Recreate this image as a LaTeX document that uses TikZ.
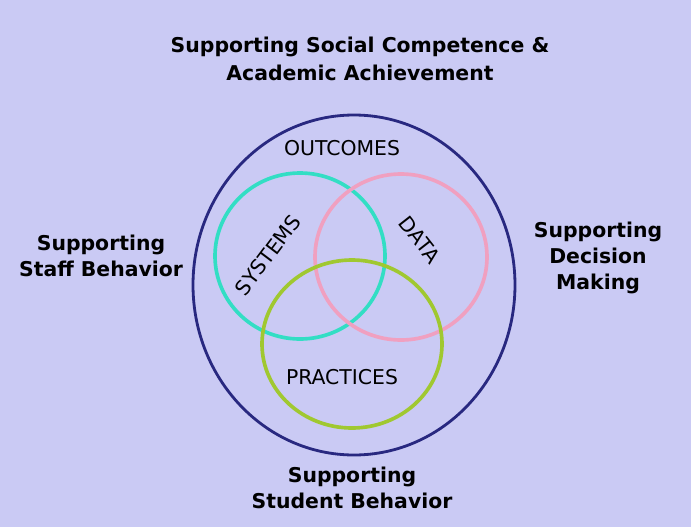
\documentclass[tikz,border=0pt]{standalone}
\usepackage{fontspec}
\setmainfont{DejaVu Sans}

\definecolor{lavender}{RGB}{202,202,244}
\definecolor{navy}{RGB}{40,40,128}
\definecolor{turq}{RGB}{50,222,196}
\definecolor{rose}{RGB}{240,160,192}
\definecolor{lime}{RGB}{160,200,48}

\tikzset{
  outer/.style={align=center, font=\fontsize{14.5}{18.5}\selectfont\bfseries},
  inner/.style={font=\fontsize{14.5}{17}\selectfont}
}

\begin{document}
\begin{tikzpicture}[x=0.025cm, y=-0.025cm]
  % Draw the background
  \fill[lavender] (0,0) rectangle (691,527);

  % Draw the big circle
  \draw[navy, line width=2pt] (354,285) ellipse (161 and 170);

  % Draw the three small circles
  \draw[turq, line width=2.6pt] (300,256) ellipse (85 and 83);
  \draw[rose, line width=2.6pt] (401,257) ellipse (86 and 83);
  \draw[lime, line width=2.6pt] (352,344) ellipse (90 and 84);

  % Labels around the circle
  \node[outer, font=\fontsize{14.5}{20}\selectfont\bfseries] (title) at (360,59)
    {Supporting Social Competence \&\\Academic Achievement};
  \node[outer] (staff) at (101,256) {Supporting\\Staff Behavior};
  \node[outer] (decision) at (598,258) {Supporting\\Decision\\Making};
  \node[outer] (student) at (352,488) {Supporting\\Student Behavior};

  % Labels inside the circle
  \node[inner] (outcomes) at (342,148) {OUTCOMES};
  \node[inner] (practices) at (342,377) {PRACTICES};
  \node[inner, rotate=53] (systems) at (268,255) {SYSTEMS};
  \node[inner, rotate=-52] (data) at (420,240) {DATA};
\end{tikzpicture}
\end{document}
